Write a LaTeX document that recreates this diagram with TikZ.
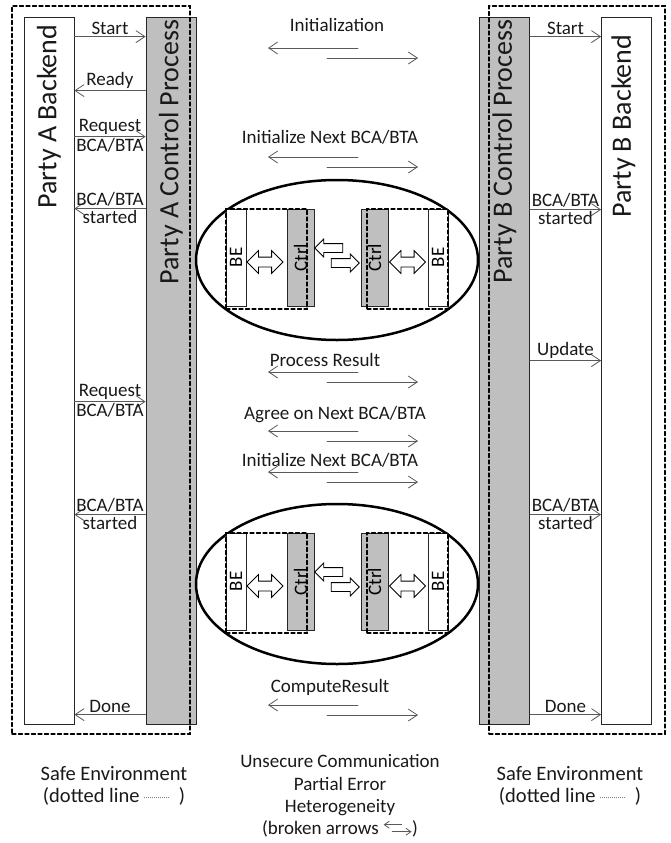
\documentclass[tikz,border=0pt]{standalone}
\usepackage{fontspec}
\setmainfont{Carlito}
\usepackage{tikz}
\usetikzlibrary{arrows.meta, shapes.geometric, shapes.arrows, positioning}

\definecolor{ctrlgray}{HTML}{BFBFBF}
\definecolor{linegray}{HTML}{595959}

\tikzset{
	lbl/.style={font=\fontsize{19}{22.3}\selectfont, text=black!90, inner sep=1.5pt},
	bot/.style={font=\fontsize{20.5}{22}\selectfont, text=black!90, align=center, inner sep=1pt},
	boxtitle/.style={font=\fontsize{28}{30}\selectfont, text=black!90, rotate=90, anchor=east, inner sep=0pt},
	msg/.style={linegray, line width=0.8pt},
	backend/.style={draw=black!85, line width=0.8pt, fill=white, minimum width=50pt, minimum height=707pt, inner sep=0pt},
	ctrl/.style={backend, fill=ctrlgray},
	safe/.style={draw=black, line width=1.3pt, dash pattern=on 4pt off 2.5pt, inner sep=0pt},
	sess/.style={draw, ellipse, line width=2.5pt, minimum width=282pt, minimum height=160pt, inner sep=0pt},
	bebox/.style={draw=black!85, line width=0.8pt, fill=white, rotate=90, minimum width=97pt, minimum height=20pt, inner sep=0pt, font=\fontsize{19}{22}\selectfont},
	ctrlbox/.style={bebox, fill=ctrlgray, minimum height=27pt},
	dblarr/.style={draw, double arrow, line width=0.8pt, fill=white, minimum height=36pt, inner xsep=0pt, inner ysep=4.5pt, double arrow head extend=6.5pt},
	sglarr/.style={draw, single arrow, line width=0.8pt, fill=white, minimum height=28pt, inner xsep=0pt, inner ysep=4pt, single arrow head extend=4.5pt},
}

\newcommand{\dotsample}{\tikz[baseline=-5pt]\draw[gray, line width=0.6pt, dash pattern=on 1pt off 1pt] (0pt,0pt) -- (26pt,0pt);}
\newcommand{\brksample}{\tikz[baseline=0pt]{\draw[msg, -{Straight Barb[length=5pt,width=7pt]}] (18pt,10pt) -- (0pt,10pt); \draw[msg, -{Straight Barb[length=5pt,width=7pt]}] (8pt,3pt) -- (28pt,3pt);}}

\begin{document}
\begin{tikzpicture}[x=1pt, y=-1pt, >={Straight Barb[length=9pt, width=12pt]}, line cap=round]
	\useasboundingbox (0,0) rectangle (670,843);

	% parties
	\node[backend] (abe) at (49,370.5) {};
	\node[ctrl] (actl) at (171,370.5) {};
	\node[ctrl] (bctl) at (504.5,370.5) {};
	\node[backend] (bbe) at (626.5,370.5) {};
	\node[boxtitle] (abetxt) at ([yshift=-8pt]abe.north) {Party A Backend};
	\node[boxtitle] (actltxt) at ([yshift=-3pt]actl.north) {Party A Control Process};
	\node[boxtitle] (bctltxt) at ([yshift=-3pt]bctl.north) {Party B Control Process};
	\node[boxtitle] (bbetxt) at ([xshift=-3pt, yshift=-18pt]bbe.north) {Party B Backend};
	\node[safe, minimum width=178pt, minimum height=728pt] (asafe) at (101,370) {};
	\node[safe, minimum width=176pt, minimum height=728pt] (bsafe) at (577,370) {};

	\foreach \d/\dir/\up/\dn in {20/->/Start/{}, 74/<-/Ready/{}, 120/->/Request/{BCA/BTA}, 192/<-/{BCA/BTA}/started, 385/->/Request/{BCA/BTA}, 498/<-/{BCA/BTA}/started, 698/<-/Done/{}}
		\draw[msg, \dir] ([yshift=-\d pt]abe.north east) -- ([yshift=-\d pt]actl.north west)
			node[lbl, midway, above] {\up} node[lbl, midway, below] {\dn};

	\foreach \d/\up/\dn in {20/Start/{}, 193/{BCA/BTA}/started, 344/Update/{}, 498/{BCA/BTA}/started, 698/Done/{}}
		\draw[msg, ->] ([yshift=-\d pt]bctl.north east) -- ([yshift=-\d pt]bbe.north west)
			node[lbl, midway, above] {\up} node[lbl, midway, below] {\dn};

	% messages between the parties
	\foreach \i/\ly/\ay/\lx/\txt in {1/25/48/337/Initialization, 2/137/157/330/{Initialize Next BCA/BTA}, 3/360/372/325/{Process Result}, 4/415/431/335/{Agree on Next BCA/BTA}, 5/460/472/330/{Initialize Next BCA/BTA}, 6/687/705/330/ComputeResult}
	{
		\node[lbl] (msg\i) at (\lx,\ly) {\txt};
		\coordinate (ch\i) at (343,\ay);
		\draw[msg, ->] ([xshift=15pt]ch\i) -- ([xshift=-75pt]ch\i);
		\draw[msg, ->] ([xshift=-16pt, yshift=-10pt]ch\i) -- ([xshift=75pt, yshift=-10pt]ch\i);
	}

	% BCA/BTA sessions
	\foreach \n/\cy in {1/260, 2/584}
	{
		\node[sess] (sess\n) at (337,\cy) {};
		\node[bebox] (sabe\n) at (236,\cy-2.5) {BE};
		\node[ctrlbox] (sactl\n) at (300.5,\cy-2.5) {Ctrl};
		\node[ctrlbox] (sbctl\n) at (374.5,\cy-2.5) {Ctrl};
		\node[bebox] (sbbe\n) at (438,\cy-2.5) {BE};
		\node[safe, minimum width=81pt, minimum height=100pt] (sasafe\n) at (266.5,\cy-1) {};
		\node[safe, minimum width=81pt, minimum height=100pt] (sbsafe\n) at (407.5,\cy-1) {};
		\node[dblarr] (sadbl\n) at (265,\cy+2) {};
		\node[dblarr] (sbdbl\n) at (407.5,\cy+2) {};
		\node[sglarr, shape border rotate=180] (sback\n) at (331,\cy-12) {};
		\node[sglarr] (sfwd\n) at (343,\cy+3) {};
	}

	\node[bot] (safea) at (114,786) {Safe Environment\\(dotted line \dotsample\hspace{8pt})};
	\node[lbl, align=center] (risks) at (340,796) {Unsecure Communication\\Partial Error\\Heterogeneity\\(broken arrows \brksample)};
	\node[bot] (safeb) at (570,786) {Safe Environment\\(dotted line \dotsample\hspace{8pt})};
\end{tikzpicture}
\end{document}
